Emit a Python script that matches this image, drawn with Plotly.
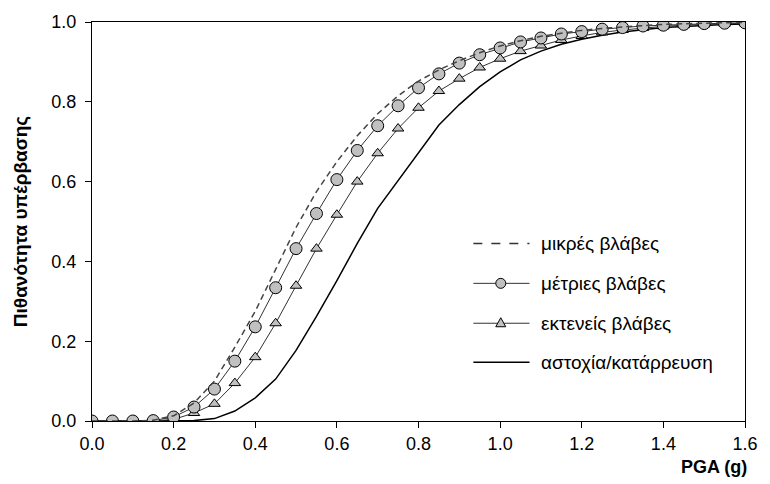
import plotly.graph_objects as go

pga = [round(0.05 * i, 2) for i in range(33)]

minor = [0.0, 0.0, 0.0, 0.002, 0.013, 0.045, 0.10, 0.185, 0.275, 0.38, 0.485, 0.575, 0.65,
         0.715, 0.77, 0.815, 0.852, 0.88, 0.903, 0.923, 0.94, 0.953, 0.964, 0.972, 0.979,
         0.984, 0.988, 0.991, 0.994, 0.996, 0.997, 0.998, 0.999]
moderate = [0.0, 0.0, 0.0, 0.001, 0.01, 0.035, 0.08, 0.15, 0.236, 0.334, 0.432, 0.52, 0.605,
            0.678, 0.74, 0.79, 0.835, 0.87, 0.897, 0.918, 0.935, 0.95, 0.96, 0.97, 0.976,
            0.982, 0.986, 0.99, 0.992, 0.994, 0.996, 0.997, 0.998]
extensive = [0.0, 0.0, 0.0, 0.0, 0.004, 0.02, 0.043, 0.095, 0.16, 0.245, 0.339, 0.432, 0.517,
             0.6, 0.671, 0.733, 0.785, 0.827, 0.858, 0.886, 0.908, 0.927, 0.941, 0.955, 0.965,
             0.974, 0.98, 0.985, 0.989, 0.992, 0.994, 0.996, 0.997]
collapse = [0.0, 0.0, 0.0, 0.0, 0.0, 0.001, 0.006, 0.025, 0.058, 0.105, 0.177, 0.262, 0.352,
            0.445, 0.533, 0.602, 0.67, 0.742, 0.793, 0.838, 0.875, 0.905, 0.927, 0.944, 0.957,
            0.967, 0.975, 0.981, 0.986, 0.989, 0.992, 0.994, 0.995]

names = ["μικρές βλάβες", "μέτριες βλάβες", "εκτενείς βλάβες", "αστοχία/κατάρρευση"]
x_ticks = [0.0, 0.2, 0.4, 0.6, 0.8, 1.0, 1.2, 1.4, 1.6]
y_ticks = [0.0, 0.2, 0.4, 0.6, 0.8, 1.0]

FONT = "Liberation Sans, Arial, sans-serif"
MARKER_FILL = "#c0c0c0"

fig = go.Figure()
fig.add_trace(go.Scatter(x=pga, y=collapse, name=names[3], mode="lines",
                         line=dict(color="#000000", width=1.5)))
fig.add_trace(go.Scatter(x=pga, y=extensive, name=names[2], mode="lines+markers",
                         line=dict(color="#333333", width=1),
                         marker=dict(symbol="triangle-up", size=10, color=MARKER_FILL,
                                     line=dict(color="#000000", width=1))))
fig.add_trace(go.Scatter(x=pga, y=moderate, name=names[1], mode="lines+markers",
                         line=dict(color="#333333", width=1),
                         marker=dict(symbol="circle", size=12, color=MARKER_FILL,
                                     line=dict(color="#000000", width=1))))
fig.add_trace(go.Scatter(x=pga, y=minor, name=names[0], mode="lines",
                         line=dict(color="#444444", width=1.5, dash="6px,4px")))

# manual legend (paper coords of the plot area)
leg_x0, leg_x1, leg_xm, leg_tx = 0.584, 0.670, 0.626, 0.685
leg_rows = [0.445, 0.345, 0.245, 0.1475]
shapes = []
annotations = []
styles = [
    dict(color="#333333", width=1.5, dash="dash"),
    dict(color="#333333", width=1),
    dict(color="#333333", width=1),
    dict(color="#000000", width=1.5),
]
for name, yr, st in zip(names, leg_rows, styles):
    shapes.append(dict(type="line", xref="paper", yref="paper", x0=leg_x0, x1=leg_x1,
                       y0=yr, y1=yr, line=st))
    annotations.append(dict(text=name, xref="paper", yref="paper", x=leg_tx, y=yr,
                            xanchor="left", yanchor="middle", showarrow=False,
                            font=dict(size=19)))
shapes.append(dict(type="circle", xref="paper", yref="paper", xsizemode="pixel",
                   ysizemode="pixel", xanchor=leg_xm, yanchor=leg_rows[1],
                   x0=-5, x1=5, y0=-5, y1=5, fillcolor=MARKER_FILL,
                   line=dict(color="#000000", width=1)))
shapes.append(dict(type="path", xref="paper", yref="paper", xsizemode="pixel",
                   ysizemode="pixel", xanchor=leg_xm, yanchor=leg_rows[2],
                   path="M-5,-3.5 L5,-3.5 L0,5.5 Z", fillcolor=MARKER_FILL,
                   line=dict(color="#000000", width=1)))

annotations.append(dict(text="<b>PGA (g)</b>", x=1.0, y=0, xref="paper", yref="paper",
                        xanchor="right", yanchor="middle", yshift=-46, xshift=4,
                        showarrow=False, font=dict(size=18)))

fig.update_layout(
    width=770, height=484,
    margin=dict(l=92, r=17, t=21, b=63),
    paper_bgcolor="white", plot_bgcolor="white",
    font=dict(family=FONT, size=18, color="#000000"),
    showlegend=False,
    shapes=shapes,
    annotations=annotations,
    xaxis=dict(range=[0, 1.6], tickvals=x_ticks,
               ticktext=[f"{v:.1f}" for v in x_ticks],
               showgrid=False, zeroline=False, showline=True, linecolor="#000000",
               linewidth=1, mirror=True, ticks="outside", ticklen=6, tickcolor="#000000",
               tickfont=dict(size=18)),
    yaxis=dict(range=[0, 1.0], tickvals=y_ticks,
               ticktext=[f"{v:.1f}" for v in y_ticks],
               showgrid=False, zeroline=False, showline=True, linecolor="#000000",
               linewidth=1, mirror=True, ticks="outside", ticklen=6, tickcolor="#000000",
               tickfont=dict(size=18), ticklabelstandoff=5,
               title=dict(text="<b>Πιθανότητα υπέρβασης</b>", font=dict(size=19), standoff=18)),
)

fig.write_html("out.html")
